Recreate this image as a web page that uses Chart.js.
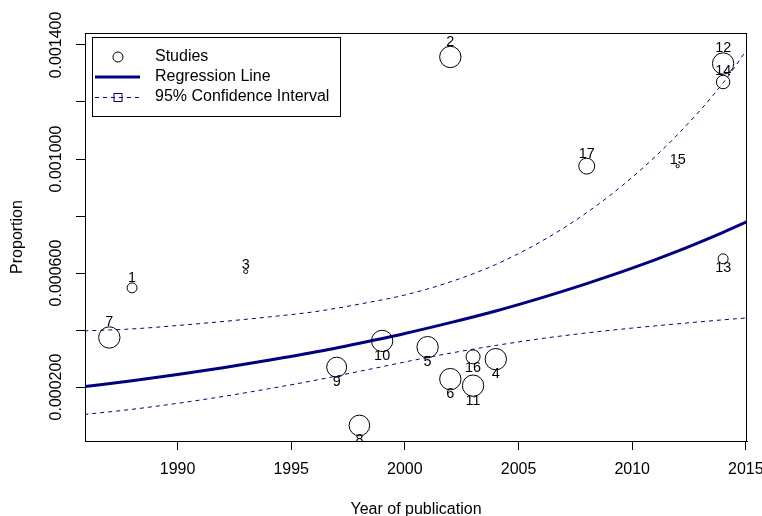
<!DOCTYPE html>
<html>
<head>
<meta charset="utf-8">
<title>Proportion by year of publication</title>
<script src="https://cdn.jsdelivr.net/npm/chart.js@4"></script>
<style>
  html, body { margin: 0; padding: 0; background: #fff; }
  canvas { display: block; }
</style>
</head>
<body>
<canvas id="myChart" width="762" height="516"></canvas>
<script>
// one entry per study
const studyIds = ['1', '2', '3', '4', '5', '6', '7', '8', '9', '10', '11', '12', '13', '14', '15', '16', '17'];
const studyYears = [1988, 2002, 1993, 2004, 2001, 2002, 1987, 1998, 1997, 1999, 2003, 2014, 2014, 2014, 2012, 2003, 2008];
const studyProps = [0.000548, 0.001358, 0.000605, 0.000298, 0.00034, 0.000228, 0.000374, 0.0000655, 0.00027,
    0.000362, 0.000205, 0.001335, 0.00065, 0.00127, 0.000975, 0.000306, 0.000975];
const studyWeights = [1.9, 8.8, 0.3, 8.8, 8.8, 8.8, 8.8, 8.2, 7.7, 8.8, 8.8, 8.8, 1.9, 3.5, 0.2, 3.8, 4.9];

// fitted meta-regression curve and its 95% band
const fitYears = [1985.9, 1988, 1990, 1992, 1994, 1996, 1998, 2000, 2002, 2004, 2006, 2008, 2010, 2012, 2014, 2015.1];
const fitLine = [0.000202, 0.000222, 0.000244, 0.000268, 0.000294, 0.000322, 0.000354, 0.000388,
    0.000426, 0.000467, 0.000513, 0.000563, 0.000617, 0.000677, 0.000743, 0.000782];
const ciUpper = [0.000397, 0.000404, 0.000416, 0.00043, 0.000446, 0.000464, 0.000491, 0.000523,
    0.000569, 0.00063, 0.000711, 0.000812, 0.000936, 0.001086, 0.001267, 0.00139];
const ciLower = [0.000104, 0.000122, 0.000143, 0.000167, 0.000194, 0.000223, 0.000255, 0.000288,
    0.000319, 0.000346, 0.00037, 0.00039, 0.000407, 0.000422, 0.000436, 0.000443];

const xTicks = [1990, 1995, 2000, 2005, 2010, 2015];
const yTicks = [0.0002, 0.0004, 0.0006, 0.0008, 0.001, 0.0012, 0.0014];
const yTickLabels = [0.0002, 0.0006, 0.001, 0.0014];

const legendLabels = ['Studies', 'Regression Line', '95% Confidence Interval'];

const FONT = '"Liberation Sans", Arial, Helvetica, sans-serif';
const NAVY = '#000080';

const toPoints = (xs, ys) => xs.map((x, i) => ({ x: x, y: ys[i] }));

// fitted value at a given year (used to put the label above or below a bubble)
function fitAt(year) {
    for (let i = 1; i < fitYears.length; i++) {
        if (year <= fitYears[i]) {
            const t = (year - fitYears[i - 1]) / (fitYears[i] - fitYears[i - 1]);
            return fitLine[i - 1] + t * (fitLine[i] - fitLine[i - 1]);
        }
    }
    return fitLine[fitLine.length - 1];
}

const extras = {
    id: 'extras',
    afterDatasetsDraw(chart) {
        const { ctx, chartArea: area } = chart;

        // study numbers, clipped to the plot region
        ctx.save();
        ctx.beginPath();
        ctx.rect(area.left, area.top, area.right - area.left, area.bottom - area.top);
        ctx.clip();
        ctx.font = '14.4px ' + FONT;
        ctx.fillStyle = '#000';
        ctx.textAlign = 'center';
        ctx.textBaseline = 'middle';
        chart.getDatasetMeta(0).data.forEach((pt, i) => {
            const r = pt.options.radius;
            const above = studyProps[i] > fitAt(studyYears[i]);
            ctx.fillText(studyIds[i], pt.x, above ? pt.y - r - 4.5 : pt.y + r + 4.5);
        });
        ctx.restore();
    },
    afterDraw(chart) {
        const { ctx, chartArea: area, scales: { y } } = chart;
        ctx.save();

        // frame
        ctx.strokeStyle = '#000';
        ctx.lineWidth = 1;
        ctx.strokeRect(area.left + 0.5, area.top + 0.5, area.right - area.left - 1, area.bottom - area.top);

        // rotated y tick labels
        ctx.font = '16px ' + FONT;
        ctx.fillStyle = '#000';
        ctx.textAlign = 'center';
        ctx.textBaseline = 'middle';
        yTickLabels.forEach(v => {
            ctx.save();
            ctx.translate(area.left - 28.5, y.getPixelForValue(v));
            ctx.rotate(-Math.PI / 2);
            ctx.fillText(v.toFixed(6), 0, 0);
            ctx.restore();
        });

        // legend
        const lx = area.left + 7, ly = area.top + 4;
        ctx.fillStyle = '#fff';
        ctx.fillRect(lx, ly, 248, 79);
        ctx.strokeRect(lx + 0.5, ly + 0.5, 248, 79);

        const sx = lx + 26;
        ctx.beginPath();
        ctx.arc(sx, ly + 20, 5, 0, Math.PI * 2);
        ctx.stroke();

        ctx.strokeStyle = NAVY;
        ctx.lineWidth = 3;
        ctx.beginPath();
        ctx.moveTo(lx + 3, ly + 40);
        ctx.lineTo(lx + 48, ly + 40);
        ctx.stroke();

        ctx.lineWidth = 1;
        ctx.setLineDash([4, 4]);
        ctx.beginPath();
        ctx.moveTo(lx + 3, ly + 60.5);
        ctx.lineTo(lx + 48, ly + 60.5);
        ctx.stroke();
        ctx.setLineDash([]);
        ctx.strokeRect(sx - 4, ly + 56.5, 8, 8);

        ctx.fillStyle = '#000';
        ctx.textAlign = 'left';
        legendLabels.forEach((txt, i) => ctx.fillText(txt, lx + 63, ly + 20 + i * 20));

        ctx.restore();
    }
};

const config = {
    type: 'bubble',
    data: {
        datasets: [{
            label: 'Studies',
            data: studyYears.map((yr, i) => ({ x: yr, y: studyProps[i], r: 3.6 * Math.sqrt(studyWeights[i]) })),
            backgroundColor: 'rgba(0,0,0,0)',
            borderColor: '#000',
            borderWidth: 1,
            hoverRadius: 0
        }, {
            type: 'line',
            label: 'Regression Line',
            data: toPoints(fitYears, fitLine),
            borderColor: NAVY,
            borderWidth: 3,
            pointRadius: 0,
            cubicInterpolationMode: 'monotone',
            fill: false
        }, {
            type: 'line',
            label: 'Upper',
            data: toPoints(fitYears, ciUpper),
            borderColor: NAVY,
            borderWidth: 1,
            borderDash: [4, 4],
            pointRadius: 0,
            cubicInterpolationMode: 'monotone',
            fill: false
        }, {
            type: 'line',
            label: 'Lower',
            data: toPoints(fitYears, ciLower),
            borderColor: NAVY,
            borderWidth: 1,
            borderDash: [4, 4],
            pointRadius: 0,
            cubicInterpolationMode: 'monotone',
            fill: false
        }]
    },
    options: {
        responsive: false,
        animation: false,
        devicePixelRatio: 1,
        events: [],
        layout: { padding: { top: 33, right: 15, left: 0, bottom: 0 } },
        plugins: {
            legend: { display: false },
            tooltip: { enabled: false }
        },
        scales: {
            x: {
                type: 'linear',
                min: 1985.93,
                max: 2015.05,
                afterBuildTicks: axis => { axis.ticks = xTicks.map(v => ({ value: v })); },
                afterFit: axis => { axis.height = 75; axis.paddingLeft = 0; axis.paddingRight = 0; },
                grid: { drawOnChartArea: false, drawTicks: true, tickLength: 9, color: '#000', tickColor: '#000' },
                border: { display: true, color: '#000', width: 1 },
                ticks: {
                    color: '#000',
                    font: { size: 16, family: FONT },
                    padding: 10,
                    maxRotation: 0,
                    autoSkip: false,
                    callback: v => String(v)
                },
                title: {
                    display: true,
                    text: 'Year of publication',
                    color: '#000',
                    font: { size: 16, family: FONT },
                    padding: { top: 0, bottom: -3 }
                }
            },
            y: {
                type: 'linear',
                min: 0.0000109,
                max: 0.001442,
                afterBuildTicks: axis => { axis.ticks = yTicks.map(v => ({ value: v })); },
                afterFit: axis => { axis.width = 85; axis.paddingTop = 0; axis.paddingBottom = 0; },
                grid: { drawOnChartArea: false, drawTicks: true, tickLength: 9, color: '#000', tickColor: '#000' },
                border: { display: true, color: '#000', width: 1 },
                ticks: { display: false },
                title: {
                    display: true,
                    text: 'Proportion',
                    color: '#000',
                    font: { size: 16, family: FONT },
                    padding: { top: 8, bottom: 0 }
                }
            }
        }
    },
    plugins: [extras]
};

const myChart = new Chart(document.getElementById('myChart'), config);
</script>
</body>
</html>
